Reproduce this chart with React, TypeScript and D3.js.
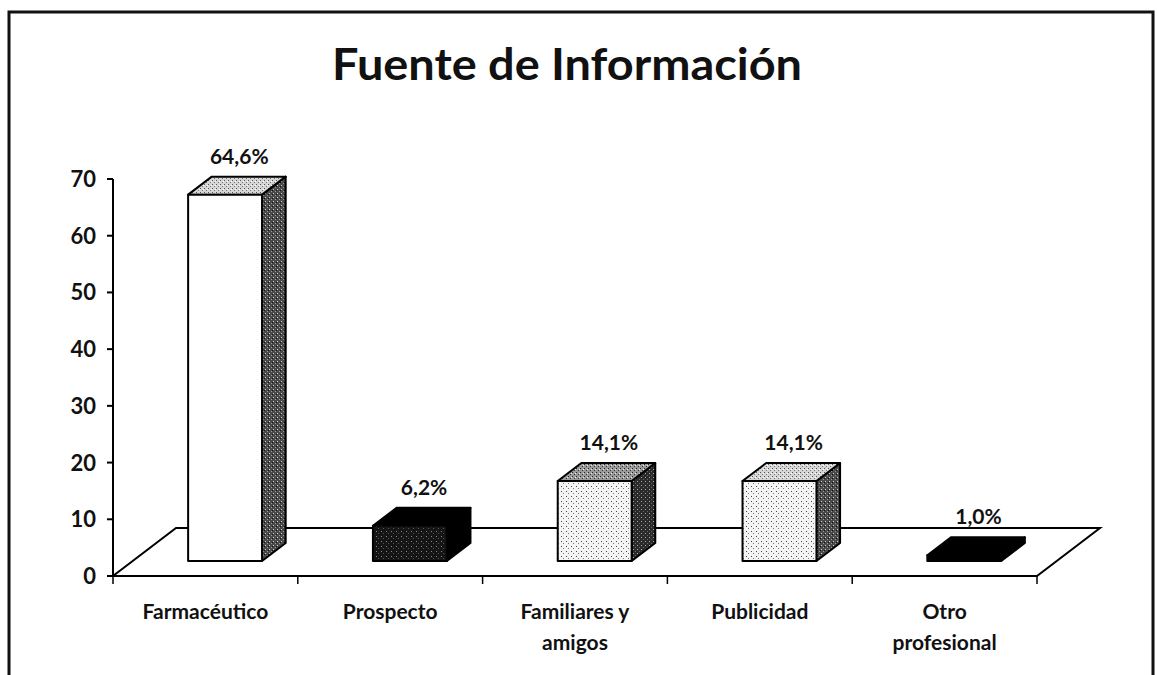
import React from "react";
import * as d3 from "d3";

const categories = ["Farmacéutico", "Prospecto", "Familiares y amigos", "Publicidad", "Otro profesional"];
const categoryLines = [["Farmacéutico"], ["Prospecto"], ["Familiares y", "amigos"], ["Publicidad"], ["Otro", "profesional"]];
const values = [64.6, 6.2, 14.1, 14.1, 1.0];
const valueLabels = ["64,6%", "6,2%", "14,1%", "14,1%", "1,0%"];
const yTicks = [0, 10, 20, 30, 40, 50, 60, 70];

const W = 1157;
const H = 675;
const FONT = "Lato, 'Open Sans', sans-serif";

// face styles: [front, top, side]
const faceStyles = [
  ["#ffffff", "url(#spLight)", "url(#spDark)"],
  ["url(#spBlack)", "#000000", "#000000"],
  ["url(#dotsLight)", "url(#spMid)", "url(#spDark2)"],
  ["url(#dotsLight)", "url(#spLight)", "url(#spDark)"],
  ["#000000", "#000000", "#000000"],
];

export default function App() {
  const x0 = 113, x1 = 1037, yFront = 576;
  const depth = { x: 63, y: -48 };
  const t1 = 0.3125, t2 = 0.6875;

  const xScale = d3.scaleBand<string>().domain(categories).range([x0, x1]).paddingInner(0.6).paddingOuter(0.3);
  const yScale = d3.scaleLinear().domain([0, 70]).range([yFront, 179]);
  const h = (v: number) => yFront - yScale(v);

  const f1 = { x: depth.x * t1, y: depth.y * t1 };
  const f2 = { x: depth.x * t2, y: depth.y * t2 };
  const side = { x: f2.x - f1.x, y: f2.y - f1.y };

  const floorPts = [
    [x0, yFront],
    [x1, yFront],
    [x1 + depth.x, yFront + depth.y],
    [x0 + depth.x, yFront + depth.y],
  ];

  const step = xScale.step();
  const bounds = d3.range(categories.length + 1).map((i) => x0 + i * step);

  return (
    <svg width={W} height={H} style={{ position: "absolute", left: 0, top: 0, background: "#fff" }}>
      <defs>
        <pattern id="spLight" width="4" height="4" patternUnits="userSpaceOnUse">
          <rect width="4" height="4" fill="#d6d6d6" />
          <rect x="0" y="0" width="1" height="1" fill="#555" />
          <rect x="2" y="2" width="1" height="1" fill="#777" />
          <rect x="3" y="1" width="1" height="1" fill="#fff" />
        </pattern>
        <pattern id="spMid" width="4" height="4" patternUnits="userSpaceOnUse">
          <rect width="4" height="4" fill="#9a9a9a" />
          <rect x="0" y="0" width="1" height="1" fill="#222" />
          <rect x="2" y="2" width="1" height="1" fill="#333" />
          <rect x="3" y="1" width="1" height="1" fill="#eee" />
        </pattern>
        <pattern id="spDark" width="4" height="4" patternUnits="userSpaceOnUse">
          <rect width="4" height="4" fill="#4a4a4a" />
          <rect x="1" y="1" width="1" height="1" fill="#cfcfcf" />
          <rect x="3" y="3" width="1" height="1" fill="#999" />
          <rect x="0" y="2" width="1" height="1" fill="#111" />
        </pattern>
        <pattern id="spDark2" width="4" height="4" patternUnits="userSpaceOnUse">
          <rect width="4" height="4" fill="#2a2a2a" />
          <rect x="1" y="1" width="1" height="1" fill="#aaa" />
          <rect x="3" y="3" width="1" height="1" fill="#666" />
        </pattern>
        <pattern id="spBlack" width="5" height="5" patternUnits="userSpaceOnUse">
          <rect width="5" height="5" fill="#151515" />
          <rect x="1" y="1" width="1" height="1" fill="#888" />
          <rect x="3" y="3" width="1" height="1" fill="#555" />
        </pattern>
        <pattern id="dotsLight" width="5" height="5" patternUnits="userSpaceOnUse">
          <rect width="5" height="5" fill="#f4f4f4" />
          <rect x="1" y="1" width="1" height="1" fill="#444" />
          <rect x="3" y="3" width="1" height="1" fill="#777" />
        </pattern>
      </defs>

      {/* outer frame */}
      <rect x={9} y={12} width={1144} height={700} fill="none" stroke="#111" strokeWidth={3} />

      {/* title */}
      <text
        x={567}
        y={80}
        textAnchor="middle"
        fontFamily={FONT}
        fontWeight={700}
        fontSize={43}
        fill="#111"
        textLength={470}
        lengthAdjust="spacingAndGlyphs"
      >
        Fuente de Información
      </text>

      {/* floor */}
      <polygon points={floorPts.map((p) => p.join(",")).join(" ")} fill="#fff" stroke="#000" strokeWidth={2} />

      {/* bars */}
      {categories.map((c, i) => {
        const bx = (xScale(c) as number) + f1.x;
        const bw = xScale.bandwidth();
        const by = yFront + f1.y;
        const top = by - h(values[i]);
        const [fFront, fTop, fSide] = faceStyles[i];
        const topPts = [
          [bx, top],
          [bx + bw, top],
          [bx + bw + side.x, top + side.y],
          [bx + side.x, top + side.y],
        ];
        const sidePts = [
          [bx + bw, by],
          [bx + bw, top],
          [bx + bw + side.x, top + side.y],
          [bx + bw + side.x, by + side.y],
        ];
        return (
          <g key={c} stroke="#000" strokeWidth={2} strokeLinejoin="round">
            <polygon points={sidePts.map((p) => p.join(",")).join(" ")} fill={fSide} />
            <polygon points={topPts.map((p) => p.join(",")).join(" ")} fill={fTop} />
            <rect x={bx} y={top} width={bw} height={by - top} fill={fFront} />
            <text
              x={bx + bw / 2 + side.x * 0.6}
              y={top + side.y - 13}
              textAnchor="middle"
              fontFamily={FONT}
              fontWeight={700}
              fontSize={21}
              fill="#111"
              stroke="none"
            >
              {valueLabels[i]}
            </text>
          </g>
        );
      })}

      {/* value axis */}
      <line x1={x0} x2={x0} y1={yScale(70)} y2={yFront} stroke="#000" strokeWidth={2} />
      {yTicks.map((t) => (
        <g key={t}>
          <line x1={x0 - 6} x2={x0} y1={yScale(t)} y2={yScale(t)} stroke="#000" strokeWidth={2} />
          <text x={96} y={yScale(t) + 8} textAnchor="end" fontFamily={FONT} fontWeight={700} fontSize={22} fill="#111">
            {t}
          </text>
        </g>
      ))}

      {/* category ticks */}
      {bounds.map((bx, i) => (
        <line key={i} x1={bx} x2={bx} y1={yFront} y2={yFront + 8} stroke="#000" strokeWidth={1.5} />
      ))}

      {/* category labels */}
      {categories.map((c, i) => {
        const cx = (xScale(c) as number) + xScale.bandwidth() / 2;
        return (
          <text key={c} textAnchor="middle" fontFamily={FONT} fontWeight={700} fontSize={21} fill="#111">
            {categoryLines[i].map((ln, j) => (
              <tspan key={j} x={cx} y={619 + j * 31}>
                {ln}
              </tspan>
            ))}
          </text>
        );
      })}
    </svg>
  );
}
